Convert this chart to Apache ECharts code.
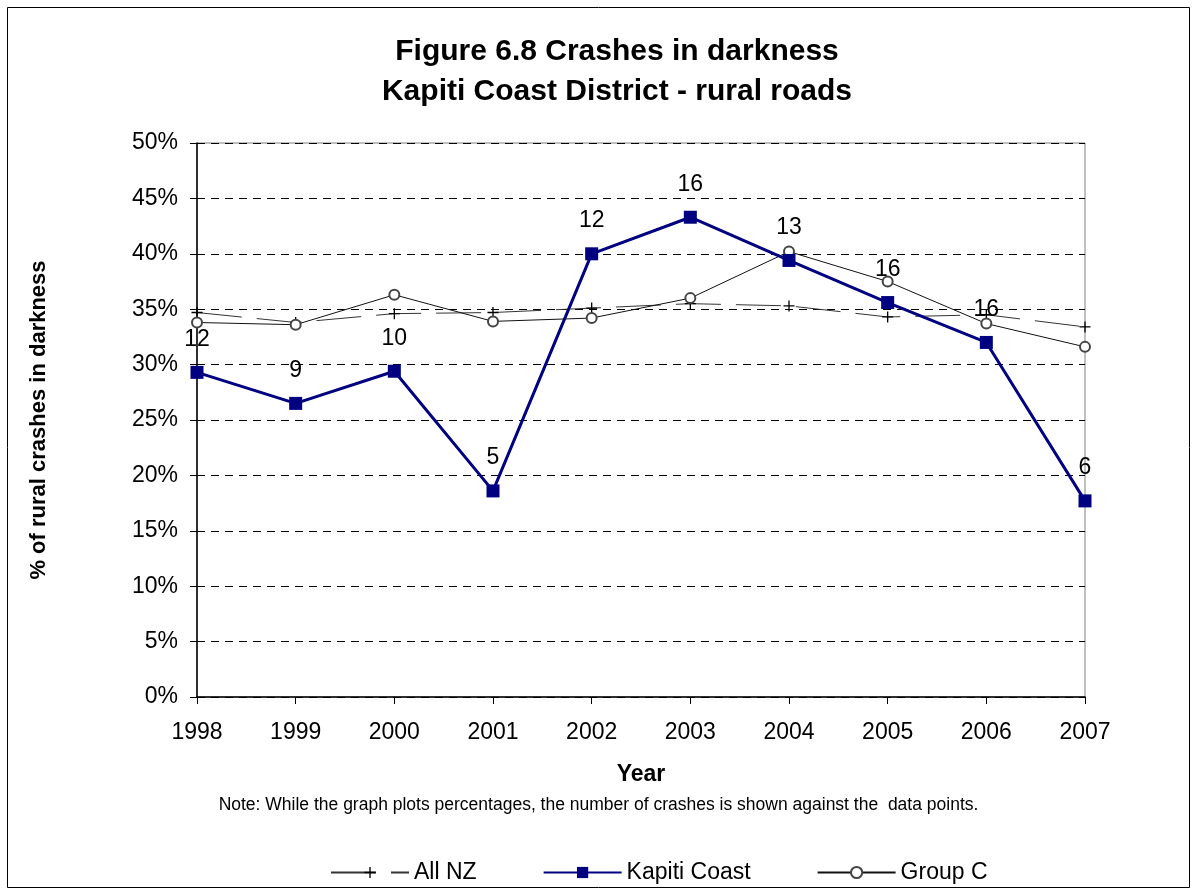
<!DOCTYPE html>
<html><head><meta charset="utf-8">
<script src="https://cdn.jsdelivr.net/npm/echarts@6/dist/echarts.min.js"></script>
<style>html,body{margin:0;padding:0;background:#fff}#c{width:1197px;height:895px}</style>
</head><body><div id="c"></div>
<script>
const years = ['1998','1999','2000','2001','2002','2003','2004','2005','2006','2007'];
const allNZ = [34.7, 33.8, 34.6, 34.7, 35.1, 35.5, 35.3, 34.3, 34.5, 33.4];
const kapiti = [29.3, 26.5, 29.4, 18.6, 40.0, 43.3, 39.4, 35.6, 32.0, 17.7];
const groupC = [33.8, 33.6, 36.3, 33.9, 34.2, 36.0, 40.2, 37.5, 33.7, 31.6];
const kapitiCounts = [12, 9, 10, 5, 12, 16, 13, 16, 16, 6];
const yTicks = [0, 5, 10, 15, 20, 25, 30, 35, 40, 45, 50];

const font = "'Liberation Sans', Arial, sans-serif";
const plus = 'path://M4.4,0H5.6V4.4H10V5.6H5.6V10H4.4V5.6H0V4.4H4.4Z';

const chart = echarts.init(document.getElementById('c'), null, {renderer: 'canvas'});
chart.setOption({
  animation: false,
  textStyle: {fontFamily: font},
  title: {
    text: 'Figure 6.8 Crashes in darkness\nKapiti Coast District - rural roads',
    left: 612, top: 27, textAlign: 'center',
    textStyle: {fontSize: 30, fontWeight: 'bold', color: '#000', lineHeight: 40, fontFamily: font}
  },
  graphic: [
    {type: 'rect', shape: {x: 7.5, y: 7.5, width: 1182, height: 880}, style: {fill: 'none', stroke: '#000', lineWidth: 1}, silent: true, z: -1},
    {type: 'text', left: 'center', top: 796, style: {text: 'Note: While the graph plots percentages, the number of crashes is shown against the  data points.', font: '17.5px ' + font, fill: '#000'}}
  ],
  legend: {
    top: 856, left: 325,
    itemWidth: 78, itemHeight: 14, itemGap: 66,
    textStyle: {fontSize: 23, color: '#000', fontFamily: font},
    data: ['All NZ', 'Kapiti Coast', 'Group C']
  },
  grid: {left: 197, right: 112, top: 143, bottom: 198, show: true, borderColor: '#808080', borderWidth: 1},
  xAxis: {
    type: 'category', data: years, boundaryGap: false,
    name: 'Year', nameLocation: 'middle', nameGap: 66,
    nameTextStyle: {fontSize: 23, fontWeight: 'bold', color: '#000'},
    axisLine: {lineStyle: {color: '#000', width: 1.5}},
    axisTick: {show: true, length: 7, lineStyle: {color: '#000'}},
    axisLabel: {fontSize: 23, color: '#000', margin: 24}
  },
  yAxis: {
    type: 'value', min: 0, max: 50, interval: 5,
    name: '% of rural crashes in darkness', nameLocation: 'middle', nameGap: 147, nameRotate: 90,
    nameTextStyle: {fontSize: 22, fontWeight: 'bold', color: '#000'},
    axisLine: {show: true, lineStyle: {color: '#000', width: 1.5}},
    axisTick: {show: true, length: 7, lineStyle: {color: '#000'}},
    axisLabel: {fontSize: 23, color: '#000', margin: 19, formatter: v => yTicks.includes(v) ? v + '%' : ''},
    splitLine: {show: true, lineStyle: {color: '#000', type: [8, 6], width: 1}}
  },
  series: [
    {
      name: 'All NZ', type: 'line', data: allNZ, symbol: plus, symbolSize: 11,
      lineStyle: {color: '#333', width: 1, type: [45, 15]},
      itemStyle: {color: '#000'}, z: 3
    },
    {
      name: 'Kapiti Coast', type: 'line', data: kapiti, symbol: 'rect', symbolSize: 13,
      lineStyle: {color: '#000080', width: 3},
      itemStyle: {color: '#000080'},
      label: {show: true, position: 'top', distance: 15, fontSize: 23, color: '#000',
              formatter: p => String(kapitiCounts[p.dataIndex])},
      z: 4
    },
    {
      name: 'Group C', type: 'line', data: groupC, symbol: 'circle', symbolSize: 10,
      showAllSymbol: true,
      lineStyle: {color: '#111', width: 1},
      itemStyle: {color: '#fff', borderColor: '#444', borderWidth: 2}, z: 3
    }
  ]
});
</script>
</body></html>
